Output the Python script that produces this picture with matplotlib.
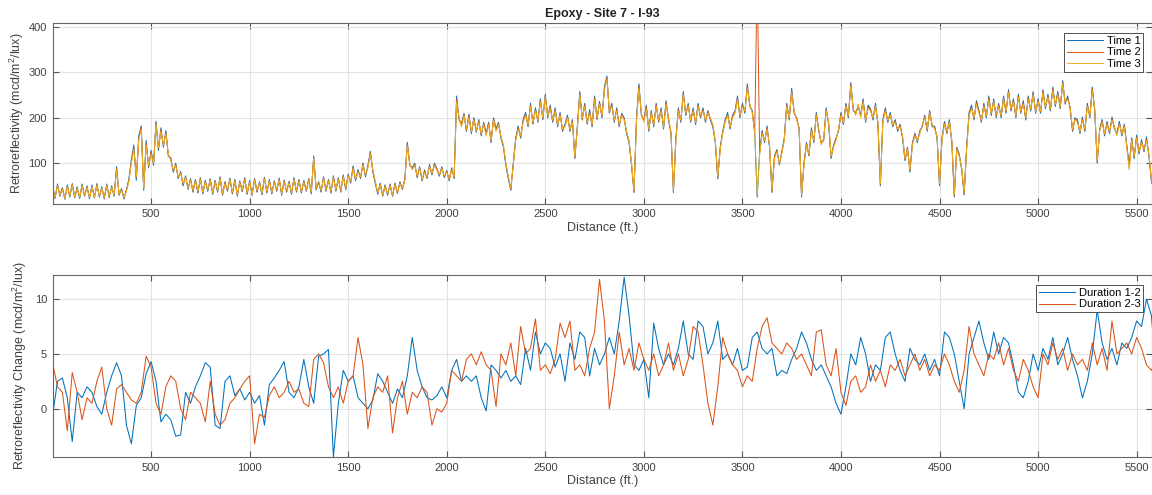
import numpy as np
from matplotlib import pyplot as plt

plt.rcParams["font.family"] = ["Liberation Sans", "DejaVu Sans"]
plt.rcParams["mathtext.fontset"] = "custom"
plt.rcParams["mathtext.rm"] = "Liberation Sans"

# distance samples (ft)
distance_fine = np.arange(0, 5601, 12.5)   # Time 1 / 2 / 3
distance = np.arange(0, 5601, 25)          # change series

time_1 = [
    50, 22, 54, 27, 46, 20, 52, 25, 55, 24, 48, 22, 54, 27, 50, 21,
    52, 23, 55, 25, 48, 21, 54, 24, 50, 27, 92, 29, 44, 21, 42, 65,
    108, 140, 62, 160, 182, 40, 150, 90, 128, 95, 192, 128, 178, 135, 172, 115,
    112, 80, 100, 66, 82, 50, 72, 42, 66, 36, 64, 34, 68, 32, 62, 38,
    66, 31, 62, 36, 70, 29, 59, 38, 67, 32, 64, 27, 61, 37, 68, 31,
    62, 29, 66, 36, 59, 30, 69, 34, 64, 32, 61, 38, 67, 29, 63, 36,
    60, 31, 68, 36, 64, 34, 62, 38, 66, 32, 116, 41, 59, 36, 70, 38,
    64, 34, 72, 38, 68, 36, 74, 41, 76, 56, 94, 61, 86, 66, 100, 70,
    95, 126, 80, 55, 31, 56, 27, 52, 29, 54, 27, 56, 33, 59, 42, 66,
    146, 95, 90, 100, 68, 92, 61, 85, 66, 97, 74, 100, 88, 71, 92, 68,
    84, 61, 90, 66, 248, 195, 188, 210, 170, 208, 165, 200, 168, 196, 160, 190,
    166, 190, 145, 200, 176, 190, 155, 135, 95, 65, 40, 100, 156, 182, 155, 196,
    212, 180, 232, 186, 222, 190, 242, 196, 252, 200, 228, 190, 222, 180, 212, 170,
    186, 206, 170, 196, 110, 182, 258, 195, 232, 186, 218, 180, 248, 196, 236, 200,
    268, 292, 210, 232, 190, 222, 180, 210, 200, 165, 145, 95, 35, 198, 275, 205,
    196, 228, 170, 216, 180, 232, 190, 222, 175, 238, 195, 165, 35, 155, 222, 190,
    258, 205, 232, 190, 222, 185, 232, 200, 222, 190, 216, 195, 180, 145, 65, 135,
    170, 196, 212, 175, 206, 215, 248, 200, 232, 210, 275, 225, 216, 165, 25, 125,
    172, 145, 182, 135, 35, 115, 130, 96, 126, 156, 232, 195, 265, 210, 200, 175,
    25, 100, 146, 116, 178, 145, 212, 170, 145, 150, 222, 185, 110, 140, 155, 170,
    212, 185, 232, 200, 278, 215, 212, 225, 206, 242, 190, 228, 220, 195, 232, 185,
    50, 196, 222, 190, 212, 180, 196, 170, 186, 155, 105, 135, 80, 145, 166, 145,
    172, 180, 206, 170, 216, 180, 182, 155, 50, 155, 192, 165, 196, 145, 25, 135,
    120, 85, 30, 135, 212, 228, 195, 238, 216, 190, 232, 200, 248, 205, 242, 200,
    232, 200, 248, 210, 262, 215, 242, 200, 252, 210, 238, 195, 248, 215, 258, 210,
    242, 210, 262, 220, 252, 215, 268, 225, 258, 220, 282, 230, 248, 220, 170, 200,
    196, 165, 202, 170, 232, 200, 268, 215, 100, 175, 196, 160, 192, 165, 202, 175,
    166, 192, 160, 186, 140, 95, 156, 110, 162, 120, 152, 125, 158, 115, 60, 42,
    38,
]

time_2 = [
    47, 23, 51, 29, 44, 22, 49, 27, 53, 25, 45, 24, 51, 29, 47, 23,
    49, 24, 52, 27, 45, 23, 51, 26, 47, 29, 88, 31, 42, 23, 40, 62,
    104, 134, 68, 154, 180, 43, 144, 93, 124, 98, 188, 133, 174, 138, 168, 118,
    108, 83, 97, 68, 80, 53, 70, 44, 64, 38, 62, 36, 66, 34, 60, 40,
    64, 33, 60, 38, 68, 31, 57, 40, 65, 34, 62, 29, 59, 39, 66, 33,
    60, 30, 64, 38, 57, 32, 67, 36, 62, 34, 59, 40, 65, 31, 61, 38,
    58, 33, 66, 38, 62, 36, 60, 40, 64, 34, 113, 43, 57, 38, 68, 40,
    62, 36, 70, 40, 66, 38, 72, 43, 74, 58, 91, 63, 83, 68, 98, 72,
    92, 123, 83, 58, 33, 54, 28, 50, 31, 52, 28, 54, 34, 57, 43, 64,
    142, 98, 87, 97, 70, 90, 63, 82, 68, 94, 76, 97, 86, 73, 90, 70,
    82, 63, 87, 68, 242, 198, 184, 208, 172, 204, 168, 198, 170, 193, 162, 188,
    163, 188, 148, 198, 173, 188, 158, 138, 98, 68, 42, 98, 153, 178, 158, 193,
    208, 183, 228, 188, 218, 193, 238, 198, 248, 203, 224, 193, 218, 183, 208, 173,
    183, 203, 173, 193, 112, 178, 254, 198, 228, 188, 214, 183, 244, 198, 233, 203,
    264, 288, 213, 228, 193, 218, 183, 208, 198, 168, 148, 98, 38, 194, 270, 208,
    193, 224, 173, 213, 183, 228, 193, 218, 178, 234, 198, 168, 38, 153, 218, 193,
    254, 208, 228, 193, 218, 188, 228, 203, 218, 193, 213, 198, 183, 148, 68, 133,
    168, 193, 208, 178, 203, 213, 244, 203, 228, 213, 270, 228, 213, 168, 520, 122,
    168, 148, 178, 138, 38, 113, 128, 98, 123, 153, 228, 198, 260, 213, 198, 178,
    28, 98, 143, 118, 174, 148, 208, 173, 143, 153, 218, 188, 113, 138, 153, 173,
    208, 188, 228, 203, 274, 218, 208, 228, 203, 238, 193, 224, 218, 198, 228, 188,
    52, 193, 218, 193, 208, 183, 193, 173, 183, 158, 108, 133, 83, 143, 163, 148,
    168, 183, 203, 173, 213, 183, 178, 158, 52, 153, 188, 168, 193, 148, 28, 133,
    118, 88, 32, 133, 208, 224, 198, 234, 213, 193, 228, 203, 244, 208, 238, 203,
    228, 203, 244, 213, 258, 218, 238, 203, 248, 213, 234, 198, 244, 218, 254, 213,
    238, 213, 258, 223, 248, 218, 264, 228, 254, 223, 278, 233, 244, 223, 172, 198,
    193, 168, 198, 173, 228, 203, 264, 218, 102, 173, 193, 163, 188, 168, 198, 178,
    163, 188, 163, 183, 138, 90, 153, 113, 158, 123, 148, 128, 153, 118, 62, 43,
    39,
]

time_3 = [
    45, 24, 50, 30, 42, 22, 48, 28, 52, 26, 44, 25, 50, 30, 46, 24,
    48, 25, 51, 28, 44, 24, 50, 27, 46, 30, 85, 32, 40, 24, 38, 60,
    100, 130, 70, 150, 175, 45, 140, 95, 120, 100, 185, 135, 170, 140, 165, 120,
    105, 85, 95, 70, 78, 55, 68, 45, 62, 40, 60, 38, 64, 36, 58, 42,
    62, 35, 58, 40, 66, 33, 55, 42, 63, 36, 60, 30, 57, 41, 64, 35,
    58, 32, 62, 40, 55, 34, 65, 38, 60, 36, 57, 42, 63, 33, 59, 40,
    56, 35, 64, 40, 60, 38, 58, 42, 62, 36, 110, 45, 55, 40, 66, 42,
    60, 38, 68, 42, 64, 40, 70, 45, 72, 60, 88, 65, 80, 70, 95, 75,
    90, 120, 85, 60, 35, 52, 30, 48, 33, 50, 30, 52, 36, 55, 45, 62,
    138, 100, 85, 95, 72, 88, 65, 80, 70, 92, 78, 95, 84, 75, 88, 72,
    80, 65, 85, 70, 235, 200, 180, 205, 175, 200, 170, 195, 172, 190, 165, 185,
    160, 185, 150, 195, 170, 185, 160, 140, 100, 70, 45, 95, 150, 175, 160, 190,
    205, 185, 225, 190, 215, 195, 235, 200, 245, 205, 220, 195, 215, 185, 205, 175,
    180, 200, 175, 190, 115, 175, 250, 200, 225, 190, 210, 185, 240, 200, 230, 205,
    260, 285, 215, 225, 195, 215, 185, 205, 195, 170, 150, 100, 40, 190, 265, 210,
    190, 220, 175, 210, 185, 225, 195, 215, 180, 230, 200, 170, 40, 150, 215, 195,
    250, 210, 225, 195, 215, 190, 225, 205, 215, 195, 210, 200, 185, 150, 70, 130,
    165, 190, 205, 180, 200, 210, 240, 205, 225, 215, 265, 230, 210, 170, 30, 120,
    165, 150, 175, 140, 40, 110, 125, 100, 120, 150, 225, 200, 255, 215, 195, 180,
    30, 95, 140, 120, 170, 150, 205, 175, 140, 155, 215, 190, 115, 135, 150, 175,
    205, 190, 225, 205, 270, 220, 205, 230, 200, 235, 195, 220, 215, 200, 225, 190,
    55, 190, 215, 195, 205, 185, 190, 175, 180, 160, 110, 130, 85, 140, 160, 150,
    165, 185, 200, 175, 210, 185, 175, 160, 55, 150, 185, 170, 190, 150, 30, 130,
    115, 90, 35, 130, 205, 220, 200, 230, 210, 195, 225, 205, 240, 210, 235, 205,
    225, 205, 240, 215, 255, 220, 235, 205, 245, 215, 230, 200, 240, 220, 250, 215,
    235, 215, 255, 225, 245, 220, 260, 230, 250, 225, 275, 235, 240, 225, 175, 195,
    190, 170, 195, 175, 225, 205, 260, 220, 105, 170, 190, 165, 185, 170, 195, 180,
    160, 185, 165, 180, 135, 85, 150, 115, 155, 125, 145, 130, 150, 120, 65, 45,
    40,
]

duration_12 = [
    -0.7, 2.5, 2.8, 1.0, -3.0, 1.5, 1.0, 2.0,
    1.5, 0.2, -0.5, 1.5, 3.0, 4.2, 3.0, -1.5,
    -3.2, 0.3, 1.0, 3.2, 4.3, 2.5, -1.2, -0.5,
    -1.0, -2.5, -2.4, 1.5, 0.5, 2.0, 3.0, 4.2,
    3.8, -1.5, -1.8, 2.5, 3.0, 1.2, 1.8, 0.8,
    1.5, 0.5, 1.2, -1.5, 2.2, 2.8, 3.5, 4.3,
    1.5, 1.0, 2.0, 4.5, 2.0, 0.5, 4.8, 5.0,
    5.4, -4.4, 0.5, 3.5, 2.5, 3.0, 1.0, 0.5,
    0.0, 0.8, 3.2, 2.5, 1.5, 0.5, 1.8, 1.0,
    3.0, 6.5, 3.5, 2.0, 1.0, 0.8, 1.2, 2.0,
    1.0, 3.5, 4.5, 2.5, 3.0, 2.5, 3.0, 1.0,
    -0.2, 4.0, 3.5, 2.8, 3.5, 2.5, 3.0, 2.2,
    5.5, 3.5, 7.0, 5.0, 6.0, 5.5, 3.8, 5.0,
    2.5, 6.0, 4.5, 7.0, 6.5, 3.0, 5.5, 4.0,
    5.0, 6.5, 5.0, 8.0, 12.0, 8.5, 4.0, 3.5,
    4.5, 1.0, 7.8, 5.5, 4.0, 5.0, 4.0, 5.5,
    8.0, 5.0, 4.5, 8.0, 7.5, 5.0, 6.0, 8.0,
    4.5, 5.0, 4.0, 5.5, 3.5, 3.8, 6.5, 7.0,
    5.5, 5.0, 5.5, 3.0, 3.5, 3.2, 4.5, 5.5,
    7.0, 6.0, 4.5, 3.5, 4.0, 3.0, 2.0, 0.5,
    -0.5, 2.0, 5.0, 4.0, 6.5, 5.0, 2.5, 4.0,
    3.5, 6.5, 7.0, 5.0, 3.5, 2.5, 5.5, 4.5,
    4.0, 5.0, 3.5, 4.5, 3.0, 7.0, 6.5, 5.0,
    2.5, 0.0, 5.0, 6.5, 8.0, 6.0, 4.5, 7.0,
    5.0, 6.5, 6.0, 4.0, 1.5, 1.0, 2.5, 5.0,
    3.5, 5.5, 4.5, 6.5, 4.0, 5.0, 6.5, 4.5,
    3.0, 1.0, 2.5, 5.0, 9.0, 6.0, 4.5, 5.5,
    4.0, 6.0, 5.5, 6.5, 8.0, 7.5, 10.0, 8.5,
    3.0,
]

duration_23 = [
    4.2, 2.0, 1.5, -2.0, 3.3, 1.5, -1.0, 1.0,
    0.5, 2.5, 3.8, 0.0, -1.5, 1.8, 2.2, 1.5,
    0.8, 0.5, 1.5, 4.8, 3.8, 0.5, -0.5, 2.0,
    3.0, 2.5, 0.0, -1.0, 1.5, 1.0, 0.5, -1.2,
    2.5, -0.5, -1.5, -1.0, 0.5, 1.0, 1.8, 2.5,
    3.0, -3.2, -0.5, -0.8, 1.2, 2.0, 1.0, 1.5,
    2.5, 1.5, 1.8, 0.5, 0.2, 4.5, 5.0, 4.2,
    2.0, 1.0, 2.0, 0.5, 2.5, 3.0, 6.5, 4.0,
    -1.8, 1.0, 2.0, 1.5, 3.0, -2.2, 1.0, 2.5,
    -0.5, 1.5, 1.0, 2.0, 1.5, -1.5, 0.0, -0.3,
    0.5, 3.5, 3.0, 2.5, 4.5, 5.0, 4.0, 5.2,
    4.0, 3.5, 0.2, 5.0, 4.0, 6.0, 3.0, 7.5,
    5.0, 5.5, 8.2, 3.5, 4.0, 3.2, 4.5, 7.8,
    6.5, 8.0, 3.5, 4.0, 3.0, 5.5, 7.0, 11.8,
    8.0, 0.0, 3.0, 7.0, 4.0, 5.5, 3.5, 6.0,
    4.5, 3.5, 5.0, 3.0, 4.0, 6.0, 3.5, 5.0,
    3.0, 4.5, 7.5, 7.0, 4.0, 0.5, -1.5, 2.0,
    6.5, 5.0, 4.0, 3.5, 2.0, 3.0, 2.5, 5.5,
    7.5, 8.3, 6.0, 5.5, 5.0, 6.0, 5.5, 4.5,
    5.0, 4.0, 3.0, 7.0, 7.2, 4.0, 3.0, 5.5,
    1.5, 0.3, 2.5, 3.0, 1.5, 2.0, 4.0, 2.5,
    3.5, 2.0, 4.0, 3.5, 4.5, 3.0, 4.0, 5.0,
    3.5, 4.5, 3.0, 4.0, 3.5, 5.0, 4.0, 2.5,
    1.5, 3.5, 7.5, 5.0, 4.0, 3.0, 5.0, 4.5,
    6.0, 4.0, 5.5, 3.5, 2.5, 4.5, 3.5, 2.0,
    1.0, 5.0, 4.0, 6.0, 4.5, 5.5, 3.5, 5.0,
    4.0, 4.5, 3.5, 6.0, 4.0, 5.5, 3.5, 8.0,
    5.0, 5.5, 6.0, 5.0, 6.5, 5.5, 4.0, 3.5,
    4.5,
]

# MATLAB default colours
blue = "#0072BD"
orange = "#D95319"
yellow = "#EDB120"

text_color = "#404040"


def style_axes(ax):
    ax.grid(True, color="#e3e3e3", linewidth=0.8)
    ax.set_axisbelow(True)
    ax.tick_params(direction="in", top=True, right=True, length=4,
                   width=0.8, colors="#555555", labelcolor=text_color,
                   labelsize=8, pad=4)
    for s in ax.spines.values():
        s.set_color("#666666")
        s.set_linewidth(0.8)
    ax.set_xticks([500, 1000, 1500, 2000, 2500, 3000, 3500, 4000, 4500, 5000, 5500])
    ax.set_xlim(0, 5578)
    ax.set_xlabel("Distance (ft.)", fontsize=9, color=text_color, labelpad=2)


def add_legend(ax, top):
    leg = ax.legend(loc="upper right", bbox_to_anchor=(0.992, top), fontsize=8,
                    fancybox=False, framealpha=1, edgecolor="#333333",
                    handlelength=3.3, handletextpad=0.3, borderpad=0.25,
                    labelspacing=0.15, borderaxespad=0)
    leg.get_frame().set_linewidth(0.6)


fig = plt.figure(figsize=(11.52, 4.95), dpi=100)

# Top panel
ax1 = fig.add_axes([0.0456, 0.588, 0.9544, 0.3646])
ax1.plot(distance_fine, time_1, color=blue, linewidth=0.7, label="Time 1")
ax1.plot(distance_fine, time_2, color=orange, linewidth=0.7, label="Time 2")
ax1.plot(distance_fine, time_3, color=yellow, linewidth=0.7, label="Time 3")
style_axes(ax1)
ax1.set_ylim(10, 408)
ax1.set_yticks([100, 200, 300, 400])
ax1.set_ylabel("Retroreflectivity (mcd/m$^2$/lux)", fontsize=9, color=text_color, labelpad=2)
ax1.set_title("Epoxy - Site 7 - I-93", fontsize=9, fontweight="bold", color="#222222", pad=5)
add_legend(ax1, 0.947)

# Bottom panel
ax2 = fig.add_axes([0.0456, 0.0768, 0.9544, 0.3677])
ax2.plot(distance, duration_12, color=blue, linewidth=0.75, label="Duration 1-2")
ax2.plot(distance, duration_23, color=orange, linewidth=0.75, label="Duration 2-3")
style_axes(ax2)
ax2.set_ylim(-4.4, 12.2)
ax2.set_yticks([0, 5, 10])
ax2.set_ylabel("Retroreflectivity Change (mcd/m$^2$/lux)", fontsize=9, color=text_color, labelpad=4)
add_legend(ax2, 0.945)

fig.savefig("out.png", dpi=100)
